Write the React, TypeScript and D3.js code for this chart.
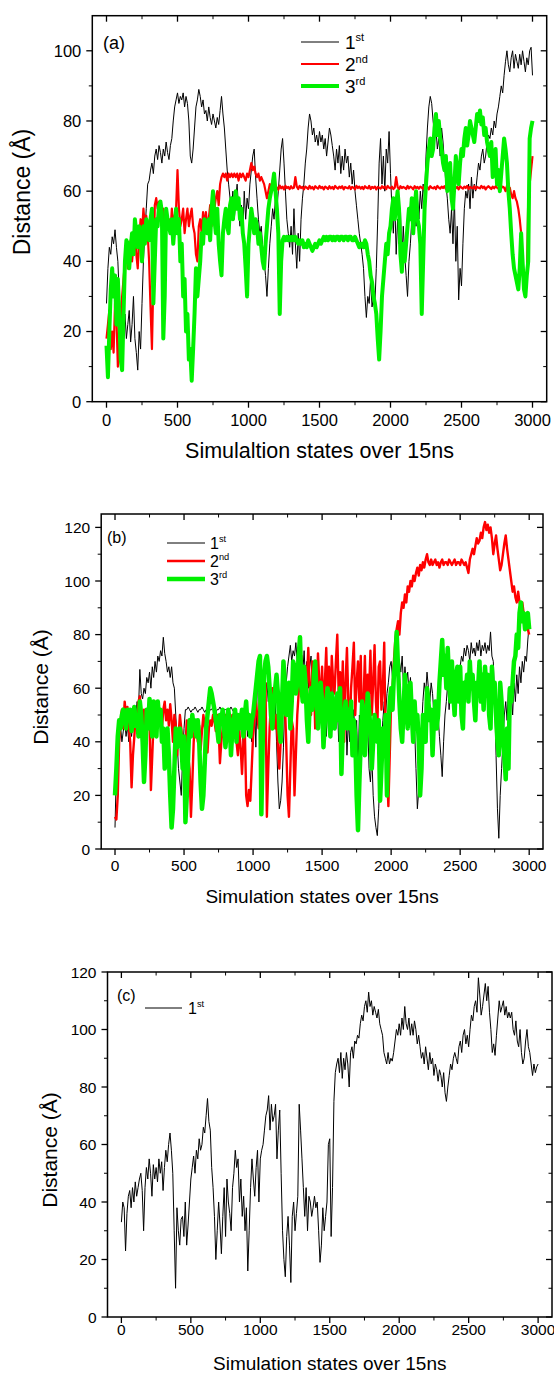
import React from "react";
import * as d3 from "d3";

// Sampling interval (simulation states) between stored distance values
const STEP = 10;

const xTickValues = [0, 500, 1000, 1500, 2000, 2500, 3000];
const xMinorValues = [250, 750, 1250, 1750, 2250, 2750];

// ---------- Panel (a) ----------
const aFirst = [
  28, 38, 44, 42, 47, 45, 49, 44, 40, 30,
  24, 28, 20, 25, 18, 22, 26, 17, 22, 30,
  18, 14, 9, 20, 15, 28, 40, 48, 55, 62,
  63, 66, 68, 65, 70, 72, 69, 73, 71, 68,
  72, 70, 74, 71, 69, 73, 75, 80, 84, 86,
  88, 85, 87, 86, 88, 84, 87, 85, 80, 70,
  68, 72, 78, 84, 86, 89, 87, 84, 86, 82,
  83, 80, 84, 81, 79, 82, 80, 78, 81, 79,
  83, 87, 82, 78, 72, 66, 62, 58, 55, 60,
  52, 58, 62, 55, 50, 56, 48, 60, 52, 58,
  55, 62, 66, 70, 72, 64, 58, 52, 48, 50,
  44, 40, 36, 30, 38, 45, 50, 55, 52, 58,
  55, 60, 66, 72, 75, 68, 60, 52, 48, 44,
  50, 42, 55, 45, 38, 48, 40, 52, 58, 62,
  68, 72, 78, 82, 80, 76, 78, 74, 76, 73,
  77, 74, 76, 72, 75, 70, 74, 78, 76, 73,
  70, 66, 72, 68, 73, 65, 70, 66, 72, 68,
  70, 64, 68, 62, 66, 60, 56, 52, 48, 45,
  42, 38, 30, 24, 30, 28, 35, 27, 30, 28,
  38, 52, 68, 75, 62, 70, 60, 72, 68, 77,
  65, 55, 48, 58, 42, 52, 45, 55, 40, 50,
  42, 36, 30, 40, 45, 52, 48, 56, 50, 58,
  52, 60, 55, 62, 58, 70, 78, 84, 87, 85,
  80, 76, 78, 72, 75, 70, 78, 74, 68, 62,
  58, 52, 48, 55, 45, 58, 40, 50, 29, 38,
  33, 45, 55, 60, 58, 62, 55, 64, 58, 62,
  60, 64, 68, 66, 70, 72, 68, 70, 74, 76,
  75, 78, 76, 80, 78, 82, 84, 87, 90, 88,
  93, 97, 100, 96, 94, 98, 100, 95, 99, 97,
  95, 99, 96, 100, 97, 94, 98, 96, 100, 101,
  93,
];
const aSecond = [
  18, 22, 26, 15, 20, 14, 28, 24, 10, 16,
  22, 30, 35, 40, 44, 38, 42, 46, 40, 45,
  50, 42, 38, 46, 52, 48, 55, 50, 53, 48,
  40, 27, 15, 35, 56, 58, 55, 57, 52, 54,
  55, 50, 53, 49, 52, 48, 55, 50, 53, 55,
  66, 55, 50, 52, 55, 48, 52, 55, 50, 53,
  55, 50, 48, 42, 40, 50, 52, 48, 54, 50,
  54, 50, 52, 56, 50, 58, 55, 58, 60, 56,
  62, 64, 65, 64, 65, 63, 65, 64, 65, 64,
  65, 64, 65, 63, 65, 64, 65, 64, 63, 65,
  64, 66, 68, 66, 67, 65, 64, 65, 63, 64,
  63, 62, 60, 58, 60, 62, 61, 63, 60.5, 61.5,
  61, 60.4, 61.6, 60.8, 61.3, 60.5, 61.5, 60.9, 61.2, 60.6,
  61.4, 60.8, 61, 64, 61.3, 60.6, 61.5, 60.9, 61.2, 60.5,
  61.3, 61, 60.6, 61.5, 60.8, 61.2, 60.5, 61.4, 61, 60.7,
  61.5, 60.9, 61.2, 60.5, 61.3, 61, 60.6, 61.4, 60.8, 61.2,
  60.6, 61.5, 61, 60.7, 61.3, 60.9, 61.4, 60.5, 61.2, 61,
  60.8, 61.4, 60.6, 61.2, 61, 60.5, 61.5, 60.9, 61.3, 60.7,
  61.2, 60.6, 61.4, 61, 60.8, 61.5, 60.6, 61.2, 60.9, 61.3,
  60.5, 61.2, 61, 60.7, 61.4, 60.9, 61.3, 60.6, 61.5, 61,
  60.8, 61.3, 60.6, 61, 64, 61.2, 60.5, 61.4, 60.9, 61.2,
  61, 60.6, 61.5, 60.8, 61.3, 61, 60.5, 61.4, 60.9, 61.2,
  60.7, 61.3, 61, 60.6, 61.5, 60.9, 61.2, 60.5, 61.4, 61,
  60.8, 61.2, 60.6, 61.5, 61, 60.7, 61.3, 60.9, 61.4, 60.6,
  61.2, 60.8, 61.5, 61, 60.6, 61.3, 60.9, 61.2, 60.5, 61.4,
  61, 60.7, 61.3, 60.9, 61.5, 60.6, 61.2, 61, 60.8, 61.4,
  60.6, 61.2, 61, 60.8, 61.5, 60.9, 61.3, 60.5, 61.1, 61.4,
  61, 60.6, 61.3, 60.8, 61.4, 61, 60.7, 61.2, 60.9, 61.3,
  61, 60, 61.5, 60, 61, 59, 58, 60, 58, 57,
  55, 52, 48, 40, 35, 31, 34, 58, 62, 66,
  70,
];
const aThird = [
  16, 7, 20, 32, 38, 30, 36, 22, 35, 25,
  12, 9, 25, 40, 46, 45, 38, 44, 48, 42,
  52, 48, 44, 50, 46, 40, 50, 45, 52, 48,
  46, 52, 55, 28, 40, 52, 50, 56, 57, 54,
  18, 30, 55, 52, 50, 48, 52, 45, 50, 55,
  48, 52, 40, 45, 30, 35, 20, 25, 12, 15,
  6, 15, 25, 38, 30, 35, 40, 48, 45, 52,
  50, 48, 52, 46, 55, 60, 52, 48, 55, 45,
  40, 36, 48, 52, 55, 50, 48, 56, 58, 52,
  56, 60, 55, 58, 52, 55, 48, 45, 38, 30,
  45, 50, 55, 52, 48, 52, 50, 45, 48, 44,
  40, 38, 45, 50, 55, 58, 60, 62, 65, 60,
  55, 48, 25, 40, 46, 47, 46, 47, 46, 47,
  46, 47, 46, 47, 46, 45, 46, 45, 46, 44,
  45, 44, 46, 45, 44, 43, 44, 45, 44, 45,
  46, 45, 46, 47, 46, 47, 46, 47, 47, 46,
  47, 46, 47, 47, 46, 47, 47, 46, 47, 47,
  46, 47, 47, 46, 46, 47, 46, 45, 44, 45,
  45, 44, 46, 45, 42, 40, 36, 34, 30, 28,
  25, 18, 12, 20, 30, 35, 40, 45, 42, 48,
  50, 55, 58, 52, 56, 60, 55, 42, 37, 45,
  40, 45, 50, 55, 52, 58, 48, 55, 60, 52,
  50, 45, 25, 40, 55, 62, 68, 72, 75, 70,
  72, 78, 82, 76, 80, 75, 72, 68, 66, 70,
  60, 65, 68, 58, 55, 62, 70, 65, 62, 68,
  72, 70, 75, 78, 73, 76, 80, 78, 76, 74,
  78, 82, 80, 83, 79, 81, 76, 78, 74, 72,
  70, 74, 64, 68, 72, 62, 66, 60, 65, 70,
  75, 72, 68, 60, 55, 48, 42, 38, 36, 34,
  32, 38, 48, 40, 32, 30, 36, 40, 75, 78,
  80,
];

// ---------- Panel (b) ----------
const bFirst = [
  8, 30, 42, 38, 46, 40, 44, 48, 42, 46,
  40, 45, 42, 48, 44, 50, 55, 52, 67, 58,
  56, 60, 58, 64, 62, 66, 60, 68, 64, 70,
  66, 72, 70, 74, 72, 79, 73, 70, 66, 68,
  64, 68, 62, 60, 50, 40, 30, 25, 20, 35,
  45, 52, 52, 53, 52, 51, 52, 52, 53, 52,
  51, 52, 52, 53, 52, 51, 52, 52, 51, 52,
  52, 53, 52, 51, 52, 52, 53, 52, 51, 52,
  52, 52, 51, 52, 53, 52, 51, 52, 48, 44,
  40, 50, 45, 38, 48, 52, 42, 50, 46, 40,
  48, 55, 38, 60, 68, 62, 66, 60, 64, 58,
  62, 55, 60, 52, 58, 48, 55, 40, 25, 15,
  18, 25, 38, 55, 62, 68, 72, 76, 70, 74,
  72, 77, 70, 75, 68, 72, 66, 74, 62, 70,
  60, 68, 72, 55, 65, 58, 68, 50, 62, 55,
  60, 45, 55, 42, 52, 48, 58, 44, 62, 50,
  45, 55, 40, 52, 38, 50, 44, 56, 35, 48,
  40, 58, 45, 52, 35, 48, 30, 50, 42, 55,
  45, 52, 38, 48, 30, 25, 35, 20, 12, 8,
  5, 15, 30, 40, 48, 55, 50, 58, 62, 68,
  70, 64, 72, 68, 75, 62, 70, 66, 72, 60,
  68, 62, 66, 58, 64, 55, 52, 45, 30, 15,
  22, 35, 45, 55, 62, 58, 66, 60, 55, 62,
  58, 50, 55, 45, 50, 42, 35, 27, 40, 50,
  55, 62, 52, 60, 66, 58, 62, 56, 64, 60,
  68, 72, 70, 75, 72, 76, 74, 70, 77, 73,
  75, 72, 77, 74, 78, 72, 76, 74, 77, 73,
  76, 74, 81, 72, 70, 55, 35, 15, 4, 20,
  30, 40, 50, 55, 48, 60, 52, 58, 50, 62,
  55, 65, 58, 68, 62, 70, 66, 72, 70, 78,
  84,
];
const bSecond = [
  12, 11, 20, 40, 48, 52, 45, 55, 50, 53,
  45, 40, 23, 35, 42, 50, 45, 55, 57, 50,
  45, 52, 38, 46, 52, 48, 22, 35, 48, 55,
  52, 55, 48, 50, 45, 52, 55, 48, 52, 46,
  54, 48, 40, 50, 46, 35, 42, 50, 45, 40,
  42, 38, 48, 35, 30, 12, 25, 40, 48, 45,
  40, 46, 37, 44, 50, 46, 42, 36, 45, 48,
  46, 50, 48, 44, 50, 46, 32, 40, 45, 48,
  50, 44, 48, 40, 46, 50, 44, 47, 40, 35,
  44, 38, 28, 40, 45, 20, 16, 22, 18, 30,
  42, 48, 55, 50, 45, 58, 60, 40, 55, 62,
  12, 30, 45, 55, 60, 52, 45, 50, 38, 30,
  40, 50, 60, 55, 40, 20, 12, 30, 48, 45,
  20, 35, 50, 58, 65, 72, 60, 55, 68, 62,
  75, 60, 50, 70, 65, 45, 55, 73, 62, 55,
  68, 50, 62, 75, 55, 68, 48, 72, 62, 58,
  70, 80, 58, 66, 52, 70, 40, 62, 75, 55,
  45, 60, 68, 77, 50, 62, 70, 55, 72, 40,
  55, 72, 48, 65, 58, 74, 50, 62, 76, 55,
  45, 68, 70, 52, 60, 77, 40, 30, 16, 35,
  55, 60, 70, 78, 82, 85, 80, 88, 92, 90,
  95, 92, 98, 96, 100, 98, 102, 100, 103, 105,
  102, 106, 104, 107, 105, 108, 110, 107, 106, 108,
  106, 107, 108, 106, 107, 105, 107, 108, 106, 107,
  107, 106, 108, 107, 106, 107, 108, 106, 107, 107,
  106, 108, 107, 106, 107, 105, 103, 108, 110, 112,
  110, 113, 116, 114, 115, 118, 116, 120, 122, 119,
  121, 118, 120, 116, 110, 114, 117, 112, 108, 104,
  106, 110, 114, 117, 112, 108, 104, 100, 96, 98,
  94, 92, 96, 92, 90, 92, 88, 86, 84, 82,
  80,
];
const bThird = [
  20, 30, 42, 48, 45, 50, 52, 48, 45, 52,
  48, 52, 44, 50, 53, 46, 50, 42, 55, 50,
  40, 25, 35, 52, 45, 56, 48, 42, 55, 50,
  42, 55, 48, 52, 40, 45, 30, 38, 45, 35,
  20, 8, 15, 30, 45, 38, 42, 45, 40, 30,
  42, 10, 20, 35, 48, 42, 50, 45, 48, 42,
  48, 40, 25, 15, 20, 32, 45, 50, 55, 60,
  58, 55, 52, 48, 45, 40, 50, 48, 52, 45,
  38, 45, 52, 48, 35, 45, 48, 52, 40, 50,
  45, 48, 52, 42, 50, 55, 45, 50, 42, 48,
  50, 55, 60, 65, 70, 72, 13, 40, 65, 70,
  72, 68, 60, 50, 45, 55, 60, 65, 58, 45,
  40, 55, 70, 62, 50, 58, 62, 45, 55, 70,
  68, 58, 62, 72, 79, 60, 55, 68, 62, 48,
  40, 55, 60, 52, 65, 70, 58, 45, 55, 62,
  55, 38, 48, 55, 60, 50, 42, 58, 55, 45,
  50, 58, 48, 60, 28, 45, 50, 55, 45, 52,
  45, 55, 35, 48, 42, 20, 7, 25, 40, 55,
  50, 35, 45, 58, 52, 45, 30, 40, 50, 45,
  40, 48, 18, 30, 45, 35, 50, 20, 45, 55,
  60, 52, 65, 70, 81, 68, 55, 45, 40, 52,
  65, 55, 45, 60, 62, 50, 40, 55, 45, 50,
  40, 20, 30, 50, 45, 40, 60, 55, 48, 52,
  35, 48, 55, 45, 50, 62, 70, 78, 65, 72,
  60, 75, 62, 55, 70, 58, 50, 65, 68, 55,
  68, 50, 45, 62, 58, 65, 55, 70, 60, 65,
  55, 48, 62, 60, 70, 55, 65, 52, 68, 60,
  65, 50, 45, 68, 55, 62, 50, 40, 35, 62,
  55, 40, 35, 26, 45, 30, 60, 55, 62, 70,
  72, 80, 75, 88, 92, 85, 88, 82, 86, 88,
  82,
];

// ---------- Panel (c) ----------
const cFirst = [
  33, 40, 38, 23, 36, 42, 44, 38, 45, 40,
  47, 42, 45, 48, 50, 44, 30, 45, 52, 48,
  55, 50, 42, 53, 48, 52, 47, 55, 50, 54,
  44, 52, 58, 54, 60, 64, 58, 50, 30, 10,
  38, 30, 25, 34, 35, 28, 40, 25, 32, 40,
  48, 52, 56, 50, 58, 55, 62, 58, 60, 66,
  64, 70, 76, 68, 65, 52, 45, 35, 20, 30,
  40, 32, 22, 35, 45, 28, 48, 40, 36, 30,
  45, 50, 58, 52, 55, 40, 48, 35, 42, 30,
  38, 16, 30, 45, 55, 48, 42, 52, 58, 40,
  55, 58, 60, 65, 70, 72, 77, 65, 74, 68,
  70, 74, 55, 65, 72, 50, 30, 20, 14, 28,
  35, 25, 12, 35, 40, 30, 36, 42, 74, 65,
  55, 45, 35, 45, 30, 42, 40, 35, 38, 42,
  38, 40, 30, 19, 25, 38, 30, 35, 40, 60,
  62, 28, 45, 75, 85, 88, 90, 85, 92, 83,
  90, 86, 92, 88, 80, 92, 94, 90, 96, 95,
  98, 97, 102, 105, 103, 108, 110, 106, 113, 108,
  110, 105, 108, 106, 104, 107, 102, 100, 98, 92,
  90, 88, 92, 88, 90, 89, 92, 96, 100, 98,
  102, 98, 104, 100, 108, 102, 100, 104, 98, 102,
  98, 103, 100, 95, 98, 94, 90, 92, 88, 94,
  90, 86, 92, 88, 90, 84, 88, 86, 82, 86,
  84, 80, 85, 78, 75, 80, 84, 88, 86, 90,
  92, 90, 88, 94, 96, 92, 98, 100, 95, 98,
  94, 100, 105, 103, 108, 110, 106, 118, 112, 105,
  108, 112, 116, 110, 115, 106, 100, 92, 95, 91,
  98, 104, 110, 106, 108, 110, 105, 108, 104, 106,
  104, 106, 100, 98, 103, 96, 94, 100, 92, 88,
  90, 96, 100, 94, 92, 88, 84, 88, 85, 87,
  88,
];

const ink = "#000000";
const red = "#ff0000";
const green = "#00f000";

type Series = { label: string; sup: string; values: number[]; color: string; width: number };

type PanelSpec = {
  left: number; right: number; top: number; bottom: number;
  yMax: number; yTicks: number[]; yMinor: number[];
  tickFont: number; xLabelGap: number;
  tag: string; tagX: number; tagY: number; tagFont: number;
  legX1: number; legX2: number; legTextX: number; legY0: number; legDy: number; legFont: number;
  xTitle: string; xTitleY: number; xTitleFont: number;
  yTitleX: number; yTitleY: number; yTitleFont: number;
  series: Series[];
};

const font = "'Liberation Sans', Arial, Helvetica, sans-serif";

function Panel({ p }: { p: PanelSpec }) {
  const x = d3.scaleLinear().domain([-100, 3100]).range([p.left, p.right]);
  const y = d3.scaleLinear().domain([0, p.yMax]).range([p.bottom, p.top]);
  const line = d3
    .line<number>()
    .x((_, i) => x(i * STEP))
    .y((v) => y(v));
  const clipId = `clip-${p.tag.replace(/[()]/g, "")}`;
  const majorLen = 6;
  const minorLen = 3.5;
  const xMid = (p.left + p.right) / 2;
  return (
    <g>
      <defs>
        <clipPath id={clipId}>
          <rect x={p.left} y={p.top} width={p.right - p.left} height={p.bottom - p.top} />
        </clipPath>
      </defs>
      <g clipPath={`url(#${clipId})`}>
        {p.series.map((s) => (
          <path
            key={s.label}
            d={line(s.values) || ""}
            fill="none"
            stroke={s.color}
            strokeWidth={s.width}
            strokeLinejoin="round"
          />
        ))}
      </g>
      {/* frame */}
      <rect
        x={p.left}
        y={p.top}
        width={p.right - p.left}
        height={p.bottom - p.top}
        fill="none"
        stroke={ink}
        strokeWidth={1.5}
      />
      {/* x ticks: outward at bottom, inward at top */}
      {xTickValues.map((t) => (
        <g key={`xt${t}`}>
          <line x1={x(t)} x2={x(t)} y1={p.bottom} y2={p.bottom + majorLen} stroke={ink} strokeWidth={1.3} />
          <line x1={x(t)} x2={x(t)} y1={p.top} y2={p.top + majorLen} stroke={ink} strokeWidth={1.3} />
          <text
            x={x(t)}
            y={p.bottom + p.xLabelGap + p.tickFont * 0.35}
            textAnchor="middle"
            fontSize={p.tickFont}
            fontFamily={font}
            fill={ink}
          >
            {t}
          </text>
        </g>
      ))}
      {xMinorValues.map((t) => (
        <g key={`xm${t}`}>
          <line x1={x(t)} x2={x(t)} y1={p.bottom} y2={p.bottom + minorLen} stroke={ink} strokeWidth={1} />
          <line x1={x(t)} x2={x(t)} y1={p.top} y2={p.top + minorLen} stroke={ink} strokeWidth={1} />
        </g>
      ))}
      {/* y ticks: outward at left, inward at right */}
      {p.yTicks.map((t) => (
        <g key={`yt${t}`}>
          <line x1={p.left - majorLen} x2={p.left} y1={y(t)} y2={y(t)} stroke={ink} strokeWidth={1.3} />
          <line x1={p.right - majorLen} x2={p.right} y1={y(t)} y2={y(t)} stroke={ink} strokeWidth={1.3} />
          <text
            x={p.left - 11}
            y={y(t) + p.tickFont * 0.36}
            textAnchor="end"
            fontSize={p.tickFont}
            fontFamily={font}
            fill={ink}
          >
            {t}
          </text>
        </g>
      ))}
      {p.yMinor.map((t) => (
        <g key={`ym${t}`}>
          <line x1={p.left - minorLen} x2={p.left} y1={y(t)} y2={y(t)} stroke={ink} strokeWidth={1} />
          <line x1={p.right - minorLen} x2={p.right} y1={y(t)} y2={y(t)} stroke={ink} strokeWidth={1} />
        </g>
      ))}
      {/* panel tag */}
      <text x={p.tagX} y={p.tagY} fontSize={p.tagFont} fontFamily={font} fill={ink}>
        {p.tag}
      </text>
      {/* legend */}
      {p.series.map((s, i) => {
        const ly = p.legY0 + i * p.legDy;
        return (
          <g key={`lg${s.label}`}>
            <line x1={p.legX1} x2={p.legX2} y1={ly} y2={ly} stroke={s.color} strokeWidth={s.width} />
            <text x={p.legTextX} y={ly + p.legFont * 0.36} fontSize={p.legFont} fontFamily={font} fill={ink}>
              {s.label}
              <tspan fontSize={p.legFont * 0.58} dy={-p.legFont * 0.4}>
                {s.sup}
              </tspan>
            </text>
          </g>
        );
      })}
      {/* axis titles */}
      <text
        x={xMid}
        y={p.xTitleY}
        textAnchor="middle"
        fontSize={p.xTitleFont}
        fontFamily={font}
        fill={ink}
      >
        {p.xTitle}
      </text>
      <text
        transform={`translate(${p.yTitleX},${p.yTitleY}) rotate(-90)`}
        textAnchor="middle"
        dominantBaseline="central"
        fontSize={p.yTitleFont}
        fontFamily={font}
        fill={ink}
      >
        Distance (Å)
      </text>
    </g>
  );
}

const panels: PanelSpec[] = [
  {
    left: 92.3, right: 546.7, top: 15.7, bottom: 401.7,
    yMax: 110, yTicks: [0, 20, 40, 60, 80, 100], yMinor: [10, 30, 50, 70, 90],
    tickFont: 16.5, xLabelGap: 19,
    tag: "(a)", tagX: 103, tagY: 49, tagFont: 18,
    legX1: 301, legX2: 339, legTextX: 345, legY0: 42, legDy: 22, legFont: 19,
    xTitle: "Simulaltion states over 15ns", xTitleY: 458, xTitleFont: 21.5,
    yTitleX: 22, yTitleY: 192, yTitleFont: 23,
    series: [
      { label: "1", sup: "st", values: aFirst, color: ink, width: 1 },
      { label: "2", sup: "nd", values: aSecond, color: red, width: 2.2 },
      { label: "3", sup: "rd", values: aThird, color: green, width: 4 },
    ],
  },
  {
    left: 101.2, right: 543, top: 514, bottom: 849,
    yMax: 125, yTicks: [0, 20, 40, 60, 80, 100, 120], yMinor: [10, 30, 50, 70, 90, 110],
    tickFont: 15.5, xLabelGap: 17,
    tag: "(b)", tagX: 107, tagY: 543, tagFont: 16,
    legX1: 167, legX2: 205, legTextX: 210, legY0: 543, legDy: 18, legFont: 16,
    xTitle: "Simulation states over 15ns", xTitleY: 903, xTitleFont: 19,
    yTitleX: 40, yTitleY: 687, yTitleFont: 21,
    series: [
      { label: "1", sup: "st", values: bFirst, color: ink, width: 1 },
      { label: "2", sup: "nd", values: bSecond, color: red, width: 2.4 },
      { label: "3", sup: "rd", values: bThird, color: green, width: 4.5 },
    ],
  },
  {
    left: 107.5, right: 552, top: 972, bottom: 1317,
    yMax: 120, yTicks: [0, 20, 40, 60, 80, 100, 120], yMinor: [10, 30, 50, 70, 90, 110],
    tickFont: 15.5, xLabelGap: 13,
    tag: "(c)", tagX: 117, tagY: 1001, tagFont: 16,
    legX1: 145, legX2: 182, legTextX: 188, legY0: 1008, legDy: 18, legFont: 16,
    xTitle: "Simulation states over 15ns", xTitleY: 1370, xTitleFont: 19,
    yTitleX: 49.5, yTitleY: 1150, yTitleFont: 21,
    series: [{ label: "1", sup: "st", values: cFirst, color: ink, width: 1 }],
  },
];

export default function App() {
  return (
    <svg
      width={554}
      height={1373}
      viewBox="0 0 554 1373"
      style={{ position: "absolute", left: 0, top: 0, background: "#ffffff" }}
    >
      <rect x={0} y={0} width={554} height={1373} fill="#ffffff" />
      {panels.map((p) => (
        <Panel key={p.tag} p={p} />
      ))}
    </svg>
  );
}
